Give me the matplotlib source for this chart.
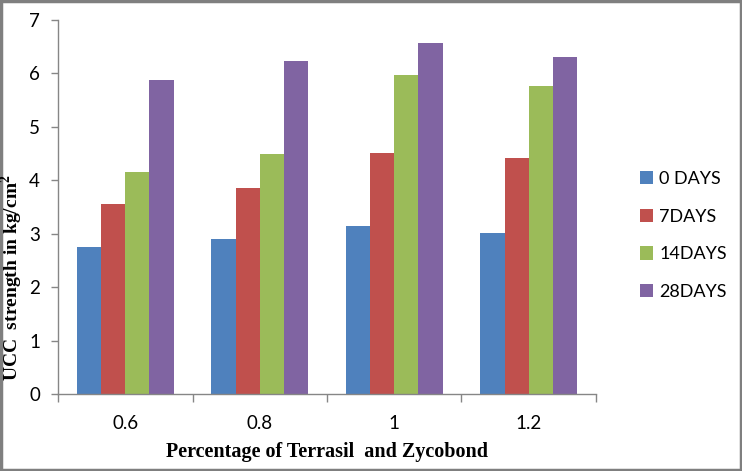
import numpy as np
import matplotlib.pyplot as plt
from matplotlib.patches import Rectangle, Patch

categories = ["0.6", "0.8", "1", "1.2"]
series = ["0 DAYS", "7DAYS", "14DAYS", "28DAYS"]
days0 = [2.76, 2.90, 3.15, 3.02]
days7 = [3.56, 3.86, 4.51, 4.42]
days14 = [4.15, 4.49, 5.97, 5.77]
days28 = [5.88, 6.23, 6.57, 6.31]

colors = ["#4F81BD", "#C0504D", "#9BBB59", "#8064A2"]
AXIS = "#868686"

fig = plt.figure(figsize=(7.42, 4.71), dpi=100)
ax = fig.add_axes([0.0782, 0.1628, 0.725, 0.7947])

x = np.arange(len(categories))
w = 0.18
for i, (vals, c) in enumerate(zip([days0, days7, days14, days28], colors)):
    ax.bar(x + (i - 1.5) * w, vals, width=w, color=c, linewidth=0)

ax.set_xlim(-0.5, len(categories) - 0.5)
ax.set_ylim(0, 7)
ax.set_yticks(range(0, 8))
ax.tick_params(axis="y", length=5, width=1, color=AXIS, pad=8,
               labelsize=13.5, labelfontfamily="Lato")

# boundary ticks on x, labels on minor ticks
ax.set_xticks(np.arange(-0.5, len(categories), 1.0))
ax.set_xticklabels([])
ax.set_xticks(x, minor=True)
ax.set_xticklabels(categories, minor=True, fontfamily="Lato", fontsize=13.5)
ax.tick_params(axis="x", which="major", length=6, width=1, color=AXIS)
ax.tick_params(axis="x", which="minor", length=0, pad=15)

for s in ["top", "right"]:
    ax.spines[s].set_visible(False)
for s in ["left", "bottom"]:
    ax.spines[s].set_color(AXIS)
    ax.spines[s].set_linewidth(1)

fig.text(0.441, 0.04, "Percentage of Terrasil  and Zycobond",
         ha="center", va="center", fontsize=14.5, fontweight="bold",
         family="Liberation Serif")
fig.text(0.016, 0.41, "UCC  strength in kg/cm$^\\mathregular{2}$",
         ha="center", va="center", rotation=90, fontsize=14,
         fontweight="bold", family="Liberation Serif")

handles = [Patch(facecolor=c, edgecolor="none") for c in colors]
fig.legend(handles, series, loc="center left", bbox_to_anchor=(0.84, 0.5),
           frameon=False, handlelength=0.75, handleheight=0.75,
           handletextpad=0.35, labelspacing=1.2,
           prop={"family": "Lato", "size": 13})

fig.patches.append(Rectangle((0.002, 0.003), 0.996, 0.994, transform=fig.transFigure,
                             fill=False, edgecolor="#7f7f7f", linewidth=2.5))

fig.savefig("out.png", dpi=100)
